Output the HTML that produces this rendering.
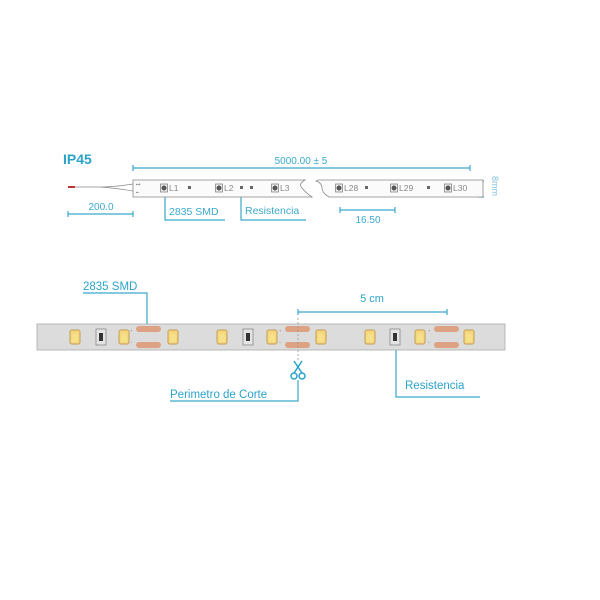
<!DOCTYPE html>
<html><head><meta charset="utf-8"><style>
html,body{margin:0;padding:0;background:#fff;width:600px;height:600px;overflow:hidden}
text{font-family:"Liberation Sans",sans-serif}
</style></head><body>
<svg width="600" height="600" viewBox="0 0 600 600" xmlns="http://www.w3.org/2000/svg">
<defs>
<g id="led">
<rect x="-5" y="-7" width="10" height="14" rx="2" fill="#f6d77a" stroke="#c9a86a" stroke-width="1.2"/>
<rect x="-3" y="-3" width="6" height="8" fill="#f7e08a"/>
</g>
<g id="res">
<rect x="-5" y="-8" width="10" height="16" fill="#e4e4e4" stroke="#888" stroke-width="0.8"/>
<rect x="-2" y="-4" width="4" height="8" fill="#333"/>
</g>
<g id="pads">
<rect x="0" y="-12" width="25" height="6" rx="3" fill="#dca283"/>
<rect x="0" y="4" width="25" height="6" rx="3" fill="#dca283"/>
<text x="-6" y="-6" font-size="4" fill="#777">+</text>
<text x="-6" y="6" font-size="4" fill="#777">−</text>
</g>
<g id="sled">
<rect x="-3.5" y="-4" width="7" height="8" fill="#eee" stroke="#777" stroke-width="0.7"/>
<circle cx="0" cy="0" r="2.5" fill="#555"/>
</g>
</defs>

<text x="63" y="164" font-size="14" font-weight="bold" fill="#2aa3c9">IP45</text>
<g stroke="#3aa9cc" stroke-width="1.2" fill="none">
<line x1="133" y1="168" x2="470" y2="168"/><line x1="133" y1="165" x2="133" y2="171"/><line x1="470" y1="165" x2="470" y2="171"/>
<line x1="68" y1="214" x2="133" y2="214"/><line x1="68" y1="211" x2="68" y2="217"/><line x1="133" y1="211" x2="133" y2="217"/>
<line x1="340" y1="210" x2="395" y2="210"/><line x1="340" y1="207" x2="340" y2="213"/><line x1="395" y1="207" x2="395" y2="213"/>
<line x1="481" y1="181" x2="481" y2="197"/><line x1="478" y1="181" x2="484" y2="181"/><line x1="478" y1="197" x2="484" y2="197"/>
<polyline points="165,194 165,220 225,220"/>
<polyline points="241,192 241,220 306,220"/>
</g>
<text x="301" y="164" font-size="10" fill="#3aa9cc" text-anchor="middle">5000.00 ± 5</text>
<text x="101" y="210" font-size="10" fill="#3aa9cc" text-anchor="middle">200.0</text>
<text x="368" y="223" font-size="10" fill="#3aa9cc" text-anchor="middle">16.50</text>
<text x="169" y="215" font-size="10.5" fill="#3aa9cc">2835 SMD</text>
<text x="245" y="214" font-size="10.5" fill="#3aa9cc">Resistencia</text>
<text x="492" y="176" font-size="9" fill="#7fc4db" transform="rotate(90 492 176)">8mm</text>
<line x1="68" y1="187" x2="75" y2="187" stroke="#b33" stroke-width="2"/>
<path d="M75 187 L100 187 Q115 187 133 184 M100 187 Q115 188 133 191" stroke="#888" stroke-width="0.7" fill="none"/>
<path d="M133 180 L305 180 Q298 184 302 188 Q306 193 312 197 L133 197 Z" fill="#fbfbfb" stroke="#888" stroke-width="0.8"/>
<path d="M318 180 L483 180 L483 197 L329 197 Q322 193 322 188 Q322 183 316 181 Z" fill="#fbfbfb" stroke="#888" stroke-width="0.8"/>
<text x="136" y="186" font-size="5" fill="#666">▪+</text><text x="136" y="194" font-size="5" fill="#666">▪-</text>
<g font-size="8.5" fill="#888">
<use href="#sled" x="164" y="188"/><text x="169" y="191">L1</text><rect x="188" y="186" width="3" height="3" fill="#666"/>
<use href="#sled" x="219" y="188"/><text x="224" y="191">L2</text><rect x="240" y="186" width="3" height="3" fill="#666"/><rect x="250" y="186" width="3" height="3" fill="#666"/>
<use href="#sled" x="275" y="188"/><text x="280" y="191">L3</text>
<use href="#sled" x="339" y="188"/><text x="344" y="191">L28</text><rect x="365" y="186" width="3" height="3" fill="#666"/>
<use href="#sled" x="394" y="188"/><text x="399" y="191">L29</text><rect x="427" y="186" width="3" height="3" fill="#666"/>
<use href="#sled" x="448" y="188"/><text x="453" y="191">L30</text>
</g>

<rect x="37" y="324" width="468" height="26" fill="#dcdcdc" stroke="#aaa" stroke-width="0.8"/>
<g>
<use href="#led" x="75" y="337"/><use href="#res" x="101" y="337"/><use href="#led" x="124" y="337"/><use href="#pads" x="136" y="338"/><use href="#led" x="173" y="337"/>
<use href="#led" x="222" y="337"/><use href="#res" x="248" y="337"/><use href="#led" x="272" y="337"/><use href="#pads" x="285" y="338"/><use href="#led" x="321" y="337"/>
<use href="#led" x="370" y="337"/><use href="#res" x="395" y="337"/><use href="#led" x="420" y="337"/><use href="#pads" x="434" y="338"/><use href="#led" x="469" y="337"/>
</g>
<g stroke="#3aa9cc" stroke-width="1.2" fill="none">
<polyline points="83,293 147,293 147,324"/>
<line x1="298" y1="312" x2="447" y2="312"/><line x1="298" y1="309" x2="298" y2="315"/><line x1="447" y1="309" x2="447" y2="315"/>
<polyline points="298,380 298,401 170,401"/>
<polyline points="396,350 396,397 480,397"/>
</g>
<line x1="298" y1="318" x2="298" y2="362" stroke="#999" stroke-width="0.8" stroke-dasharray="2,2"/>
<g stroke="#2aa3c9" stroke-width="1.5" fill="none">
<line x1="294" y1="361" x2="302" y2="373"/><line x1="302" y1="361" x2="294" y2="373"/>
<circle cx="294" cy="376" r="3"/><circle cx="302" cy="376" r="3"/>
</g>
<text x="83" y="290" font-size="11.5" fill="#2aa3c9">2835 SMD</text>
<text x="372" y="302" font-size="11" fill="#2aa3c9" text-anchor="middle">5 cm</text>
<text x="170" y="398" font-size="11.5" fill="#2aa3c9">Perimetro de Corte</text>
<text x="405" y="389" font-size="11.5" fill="#2aa3c9">Resistencia</text>
</svg>
</body></html>
